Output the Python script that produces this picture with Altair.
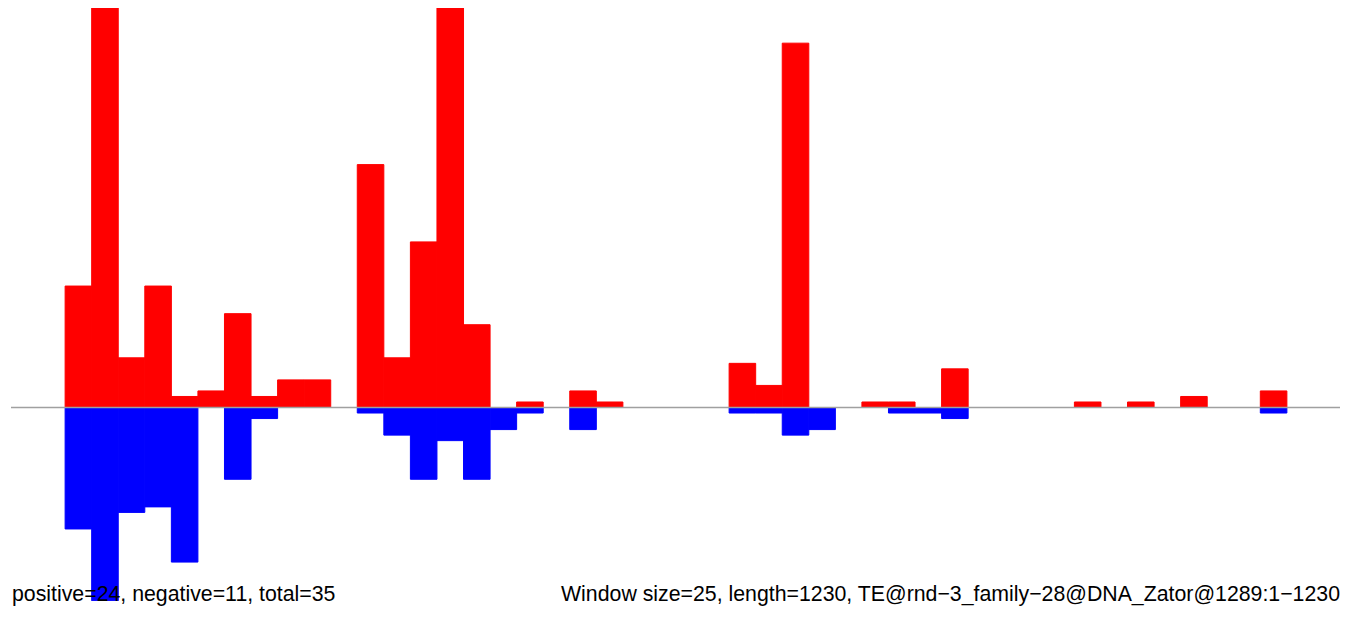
import altair as alt
import pandas as pd

# window index (25 bp windows over 1230 bp)
windows = list(range(50))
window_size = 25

pos_counts = [0, 0, 22, 73, 9, 22, 2, 3, 17, 2,
              5, 5, 0, 44, 9, 30, 73, 15, 0, 1,
              0, 3, 1, 0, 0, 0, 0, 8, 4, 66,
              0, 0, 1, 1, 0, 7, 0, 0, 0, 0,
              1, 0, 1, 0, 2, 0, 0, 3, 0, 0]
neg_counts = [0, 0, 22, 35, 19, 18, 28, 0, 13, 2,
              0, 0, 0, 1, 5, 13, 6, 13, 4, 1,
              0, 4, 0, 0, 0, 0, 0, 1, 1, 5,
              4, 0, 0, 1, 1, 2, 0, 0, 0, 0,
              0, 0, 0, 0, 0, 0, 0, 1, 0, 0]

left_label = "positive=24, negative=11, total=35"
right_label = "Window size=25, length=1230, TE@rnd\u22123_family\u221228@DNA_Zator@1289:1\u22121230"

rows = []
for w, p, n in zip(windows, pos_counts, neg_counts):
    if p:
        rows.append({"start": w * window_size, "end": (w + 1) * window_size, "v": p, "strand": "pos"})
    if n:
        rows.append({"start": w * window_size, "end": (w + 1) * window_size, "v": -n, "strand": "neg"})
df = pd.DataFrame(rows)

W, H = 1328, 593
xs = alt.Scale(domain=[0, 1250], nice=False, zero=False)
ys = alt.Scale(domain=[-35.05, 72.37], nice=False, zero=False)
cs = alt.Scale(domain=["pos", "neg"], range=["#FF0000", "#0000FF"])

bars = alt.Chart(df).mark_bar(clip=True, strokeWidth=1).encode(
    x=alt.X("start:Q", scale=xs, axis=None),
    x2="end:Q",
    y=alt.Y("v:Q", scale=ys, axis=None),
    y2=alt.datum(0),
    color=alt.Color("strand:N", scale=cs, legend=None),
    stroke=alt.Stroke("strand:N", scale=cs, legend=None),
)

base = alt.Chart(pd.DataFrame({"z": [0]})).mark_rule(color="#a0a0a0", strokeWidth=1.3).encode(
    y=alt.Y("z:Q", scale=ys, axis=None),
    x=alt.value(-1),
    x2=alt.value(W + 1),
)

txt_left = alt.Chart(pd.DataFrame({"t": [left_label]})).mark_text(
    align="left", baseline="alphabetic", font="Liberation Sans", fontSize=21.3, color="#000000"
).encode(x=alt.value(0), y=alt.value(H), text="t:N")

txt_right = alt.Chart(pd.DataFrame({"t": [right_label]})).mark_text(
    align="right", baseline="alphabetic", font="Liberation Sans", fontSize=21.3, color="#000000"
).encode(x=alt.value(W), y=alt.value(H), text="t:N")

chart = alt.layer(bars, base, txt_left, txt_right).properties(
    width=W, height=H,
    autosize=alt.AutoSizeParams(type="none"),
    padding={"left": 4, "top": 0, "right": 0, "bottom": 14},
).configure_view(stroke=None)

chart.save("out.html", embed_options={"renderer": "svg", "actions": False})
